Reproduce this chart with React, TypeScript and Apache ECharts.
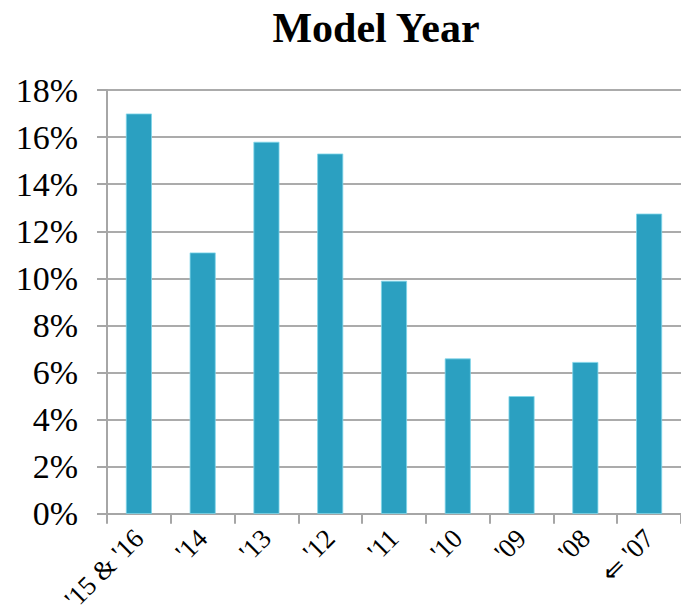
import React, { useEffect, useRef } from "react";
import * as echarts from "echarts";

const categories = ["'15 & '16", "'14", "'13", "'12", "'11", "'10", "'09", "'08", "⇐ '07"];
const shares = [17.0, 11.1, 15.8, 15.3, 9.9, 6.6, 5.0, 6.45, 12.75];
const titleText = "Model Year";

export default function App() {
  const ref = useRef<HTMLDivElement>(null);
  useEffect(() => {
    if (!ref.current) return;
    const chart = echarts.init(ref.current, null, { renderer: "svg" });
    const serif = "'Liberation Serif', 'Times New Roman', serif";
    chart.setOption({
      animation: false,
      backgroundColor: "#ffffff",
      title: {
        text: titleText,
        left: 371,
        top: 2,
        textAlign: "center",
        textStyle: { fontFamily: serif, fontSize: 42, fontWeight: "bold", color: "#000" },
      },
      grid: { left: 107, top: 90, width: 576, height: 426, containLabel: false },
      xAxis: {
        type: "category",
        data: categories,
        boundaryGap: true,
        axisLine: { lineStyle: { color: "#a6a6a6", width: 2 } },
        axisTick: { show: true, length: 10, lineStyle: { color: "#a6a6a6", width: 2 } },
        axisLabel: {
          interval: 0,
          rotate: 45,
          margin: 20,
          fontFamily: serif,
          fontSize: 27,
          color: "#000",
        },
      },
      yAxis: {
        type: "value",
        min: 0,
        max: 18,
        interval: 2,
        axisLine: { show: true, lineStyle: { color: "#a6a6a6", width: 2 } },
        axisTick: { show: true, length: 10, lineStyle: { color: "#a6a6a6", width: 2 } },
        splitLine: { show: true, lineStyle: { color: "#ababab", width: 2 } },
        axisLabel: {
          margin: 29,
          fontFamily: serif,
          fontSize: 34,
          color: "#000",
          formatter: (v: number) => v + "%",
        },
      },
      series: [
        {
          type: "bar",
          data: shares,
          barWidth: 26,
          itemStyle: { color: "#2ba0c1", borderColor: "#7fd6ea", borderWidth: 0.8 },
        },
      ],
    });
    return () => chart.dispose();
  }, []);
  return (
    <div
      ref={ref}
      style={{ position: "fixed", left: 0, top: 0, width: 681, height: 615 }}
    />
  );
}
